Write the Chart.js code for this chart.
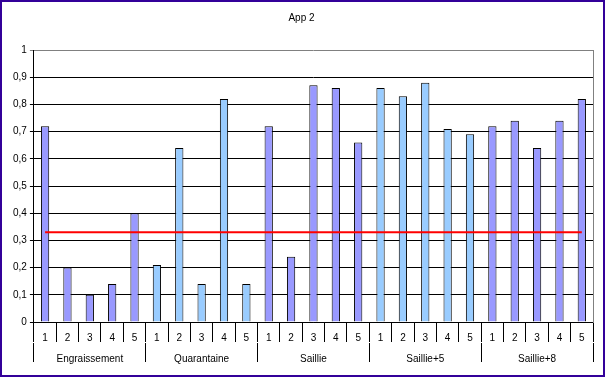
<!DOCTYPE html>
<html>
<head>
<meta charset="utf-8">
<script src="https://cdn.jsdelivr.net/npm/chart.js@4/dist/chart.umd.min.js"></script>
<style>
  body { margin: 0; background: #fff; }
  #wrap { width: 601px; height: 373px; border: 2px solid #330099; }
</style>
</head>
<body>
<div id="wrap"><canvas id="graphCanvas" width="601" height="373"></canvas></div>
<script>
var groups = ['Engraissement', 'Quarantaine', 'Saillie', 'Saillie+5', 'Saillie+8'];
var subLabels = ['1', '2', '3', '4', '5'];
var groupColors = ['#9999FF', '#99CCFF', '#9999FF', '#99CCFF', '#9999FF'];
var values = [
    0.72, 0.20, 0.10, 0.14, 0.40,
    0.21, 0.64, 0.14, 0.82, 0.14,
    0.72, 0.24, 0.87, 0.86, 0.66,
    0.86, 0.83, 0.88, 0.71, 0.69,
    0.72, 0.74, 0.64, 0.74, 0.82
];
var seuil = 0.33;

var labels = [];
var colors = [];
var seuilData = [];
for (var g = 0; g < groups.length; g++) {
    for (var s = 0; s < subLabels.length; s++) {
        labels.push(subLabels[s]);
        colors.push(groupColors[g]);
        seuilData.push(seuil);
    }
}

Chart.defaults.font.family = 'Liberation Sans, Arial, sans-serif';
Chart.defaults.font.size = 10;
Chart.defaults.color = '#000';

var chartdata = {
    labels: labels,
    datasets: [{
        type: 'line',
        label: 'Seuil',
        data: seuilData,
        borderColor: '#FF0000',
        borderWidth: 2,
        pointRadius: 0,
        order: 0
    }, {
        type: 'bar',
        label: 'App 2',
        data: values,
        backgroundColor: colors,
        borderColor: '#000',
        borderWidth: 1,
        barPercentage: 0.37,
        categoryPercentage: 1,
        order: 1
    }]
};

new Chart(document.getElementById('graphCanvas'), {
    type: 'bar',
    data: chartdata,
    options: {
        responsive: false,
        animation: false,
        layout: { padding: { left: 8, right: 10, top: 0, bottom: 13 } },
        plugins: {
            legend: { display: false },
            tooltip: { enabled: false },
            title: {
                display: true,
                text: 'App 2',
                font: { weight: 'normal', size: 10 },
                color: '#000',
                padding: { top: 10, bottom: 26 }
            }
        },
        scales: {
            x: {
                offset: true,
                grid: { offset: true, drawOnChartArea: false, color: '#000', tickLength: 20 },
                border: { color: '#000' },
                ticks: { mirror: true, padding: -22, maxRotation: 0, autoSkip: false },
                afterFit: function (scale) { scale.height = 21; }
            },
            x2: {
                type: 'category',
                position: 'bottom',
                labels: groups,
                offset: true,
                grid: { offset: true, drawOnChartArea: false, color: '#000', tickLength: 19 },
                border: { display: false },
                ticks: { mirror: true, padding: -22, maxRotation: 0, autoSkip: false },
                afterFit: function (scale) { scale.height = 19; }
            },
            y: {
                min: 0,
                max: 1,
                grid: {
                    color: function (ctx) { return ctx.tick && ctx.tick.value === 1 ? '#808080' : '#000'; },
                    tickLength: 4
                },
                border: { color: '#000' },
                ticks: {
                    stepSize: 0.1,
                    padding: 3,
                    callback: function (v) { return (Math.round(v * 10) / 10).toString().replace('.', ','); }
                }
            },
            yR: {
                position: 'right',
                min: 0,
                max: 1,
                grid: { drawOnChartArea: false, drawTicks: false },
                border: { color: '#808080' },
                ticks: { display: false }
            }
        }
    }
});
</script>
</body>
</html>
